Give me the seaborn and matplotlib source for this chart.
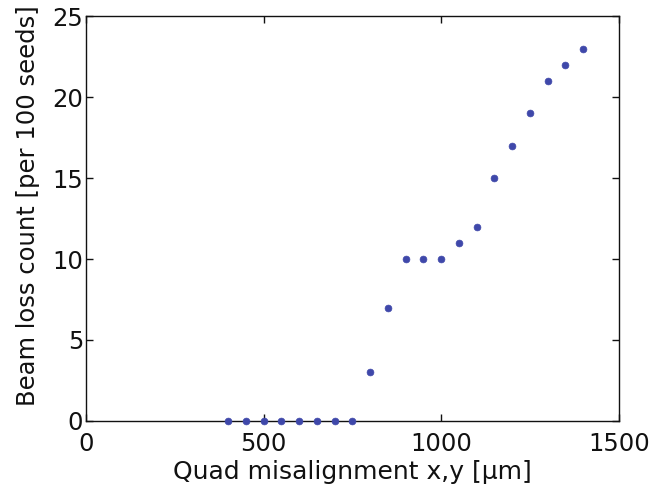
import matplotlib
matplotlib.use("Agg")
import matplotlib.pyplot as plt
import seaborn as sns
import pandas as pd

misalignment = [400, 450, 500, 550, 600, 650, 700, 750, 800, 850, 900, 950,
                1000, 1050, 1100, 1150, 1200, 1250, 1300, 1350, 1400]
loss_count = [0, 0, 0, 0, 0, 0, 0, 0, 3, 7, 10, 10,
              10, 11, 12, 15, 17, 19, 21, 22, 23]
x_ticks = [0, 500, 1000, 1500]
y_ticks = [0, 5, 10, 15, 20, 25]

sns.set_theme(style="white")
plt.rcParams['font.family'] = ['DejaVu Sans']

df = pd.DataFrame({"x": misalignment, "y": loss_count})

fig = plt.figure(figsize=(6.52, 4.9), dpi=100)
ax = fig.add_axes([0.132, 0.141, 0.817, 0.826])
sns.scatterplot(data=df, x="x", y="y", ax=ax, color="#3f48aa", s=24,
                marker="o", edgecolor="#3f48aa", linewidth=0.5, zorder=3,
                clip_on=False)
ax.set_xlim(0, 1500)
ax.set_ylim(0, 25)
ax.set_xticks(x_ticks)
ax.set_yticks(y_ticks)
ax.set_xlabel("Quad misalignment x,y [\u03bcm]", fontsize=18, color="#111111",
              labelpad=3)
ax.set_ylabel("Beam loss count [per 100 seeds]", fontsize=17.5, color="#111111",
              labelpad=9, y=0.533)
ax.tick_params(axis="both", which="both", direction="in", length=5, width=1,
               labelsize=17.5, top=True, right=True, bottom=True, left=True,
               colors="#111111", pad=2)
ax.tick_params(axis="x", pad=8)
for s in ax.spines.values():
    s.set_color("#111111")
    s.set_linewidth(1.0)
    s.set_visible(True)
fig.savefig("out.png", dpi=100)
